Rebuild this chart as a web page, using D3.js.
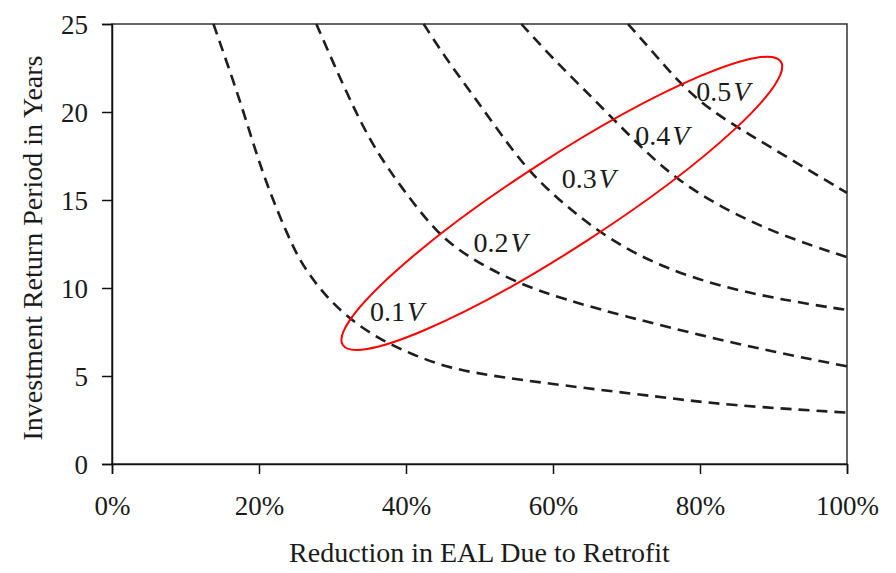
<!DOCTYPE html>
<html>
<head>
<meta charset="utf-8">
<script src="https://cdn.jsdelivr.net/npm/d3@7"></script>
<style>
  body { margin: 0; background: #fff; }
  svg text { font-family: "Liberation Serif", "Times New Roman", serif; fill: #1a1a1a; }
</style>
</head>
<body>
<div id="chart"></div>
<script>
// Reduction in EAL (%) vs investment return period (years), one curve per retrofit cost
const curve01 = [[13.8, 25], [17.4, 20.7], [19.5, 17.8], [21.5, 15.4], [23.8, 13.1], [25.6, 11.5],
    [28.3, 9.9], [31.9, 8.35], [36.5, 7.05], [41, 6.2], [45.5, 5.5], [50.9, 5.05], [61, 4.48],
    [74.6, 3.81], [83.6, 3.34], [100, 2.92]];
const curve02 = [[27.8, 25], [30.1, 22.8], [32.8, 20.3], [35.6, 18.0], [39.2, 15.8], [44.2, 13.1],
    [48.3, 11.8], [54.6, 10.36], [61.5, 9.35], [70, 8.37], [80, 7.32], [90, 6.37], [100, 5.55]];
const curve03 = [[42.4, 25], [45.5, 23.0], [49.2, 20.9], [52.8, 18.8], [56.9, 16.5], [61.9, 14.6],
    [67.5, 12.8], [74.6, 11.2], [83.6, 9.98], [92.7, 9.22], [100, 8.75]];
const curve04 = [[55.7, 25], [59.6, 23.2], [63.7, 21.5], [68.2, 19.6], [72.7, 17.7], [76.8, 16.2],
    [82.7, 14.6], [90.9, 13.0], [100, 11.75]];
const curve05 = [[70.2, 25], [73.6, 23.4], [77.3, 21.6], [81.4, 20.1], [86.4, 18.8], [93.2, 17.1],
    [100, 15.4]];
const curves = [curve01, curve02, curve03, curve04, curve05];

const curveNames = ["0.1", "0.2", "0.3", "0.4", "0.5"];
const xTicks = [0, 20, 40, 60, 80, 100];
const yTicks = [0, 5, 10, 15, 20, 25];

// where each curve label sits (data units: % reduction, years)
const labelAnchors = [[35.1, 8.12], [49.2, 12.07], [61.2, 15.67], [71.2, 18.14], [79.5, 20.6]];
// tips of the highlighting ellipse (data units)
const ellipseTips = [[31.4, 6.76], [91.0, 22.86]];

const width = 896, height = 573;
const margin = {top: 24, right: 49, bottom: 109, left: 112};

const svg = d3.select("#chart").append("svg")
    .attr("width", width)
    .attr("height", height);

const x = d3.scaleLinear().domain([0, 100]).range([margin.left, width - margin.right]);
const y = d3.scaleLinear().domain([0, 25]).range([height - margin.bottom, margin.top]);

// frame
svg.append("rect")
    .attr("x", x(0)).attr("y", y(25))
    .attr("width", x(100) - x(0)).attr("height", y(0) - y(25))
    .attr("fill", "none")
    .attr("stroke", "#333")
    .attr("stroke-width", 1.5);

const xAxis = svg.append("g")
    .attr("transform", `translate(0,${y(0)})`)
    .call(d3.axisBottom(x).tickValues(xTicks).tickSize(10).tickPadding(22).tickFormat(d => d + "%"));
const yAxis = svg.append("g")
    .attr("transform", `translate(${x(0)},0)`)
    .call(d3.axisLeft(y).tickValues(yTicks).tickSize(10).tickPadding(14));

[xAxis, yAxis].forEach(g => {
    g.select(".domain").attr("stroke", "#111").attr("stroke-width", 1.5);
    g.selectAll(".tick line").attr("stroke", "#111").attr("stroke-width", 1.5);
    g.selectAll(".tick text")
        .attr("font-size", 27)
        .attr("fill", "#1a1a1a")
        .style("font-family", '"Liberation Serif", "Times New Roman", serif');
});
yAxis.selectAll(".tick text").attr("dy", "0.34em");

// axis titles
svg.append("text")
    .attr("x", (x(0) + x(100)) / 2)
    .attr("y", 562)
    .attr("text-anchor", "middle")
    .attr("font-size", 28)
    .text("Reduction in EAL Due to Retrofit");

svg.append("text")
    .attr("transform", `translate(42,${(y(0) + y(25)) / 2 + 4}) rotate(-90)`)
    .attr("text-anchor", "middle")
    .attr("font-size", 28)
    .text("Investment Return Period in Years");

// dashed curves
const line = d3.line()
    .x(d => x(d[0]))
    .y(d => y(d[1]))
    .curve(d3.curveBasis);

svg.selectAll(".curve")
    .data(curves)
    .enter()
    .append("path")
    .attr("class", "curve")
    .attr("d", line)
    .attr("fill", "none")
    .attr("stroke", "#1e1e1e")
    .attr("stroke-width", 2.6)
    .attr("stroke-dasharray", "11,7");

// curve labels
const labels = svg.selectAll(".curve-label")
    .data(curveNames)
    .enter()
    .append("text")
    .attr("class", "curve-label")
    .attr("x", (d, i) => x(labelAnchors[i][0]))
    .attr("y", (d, i) => y(labelAnchors[i][1]))
    .attr("font-size", 28);
labels.append("tspan").text(d => d);
labels.append("tspan").attr("font-style", "italic").attr("dx", 2).text("V");

// red ellipse around the labels
const p1 = [x(ellipseTips[0][0]), y(ellipseTips[0][1])];
const p2 = [x(ellipseTips[1][0]), y(ellipseTips[1][1])];
const cx = (p1[0] + p2[0]) / 2, cy = (p1[1] + p2[1]) / 2;
const rx = Math.hypot(p2[0] - p1[0], p2[1] - p1[1]) / 2;
const angle = Math.atan2(p2[1] - p1[1], p2[0] - p1[0]) * 180 / Math.PI;

svg.append("ellipse")
    .attr("cx", cx).attr("cy", cy)
    .attr("rx", rx).attr("ry", 45)
    .attr("transform", `rotate(${angle},${cx},${cy})`)
    .attr("fill", "none")
    .attr("stroke", "#ff0000")
    .attr("stroke-width", 2);
</script>
</body>
</html>
